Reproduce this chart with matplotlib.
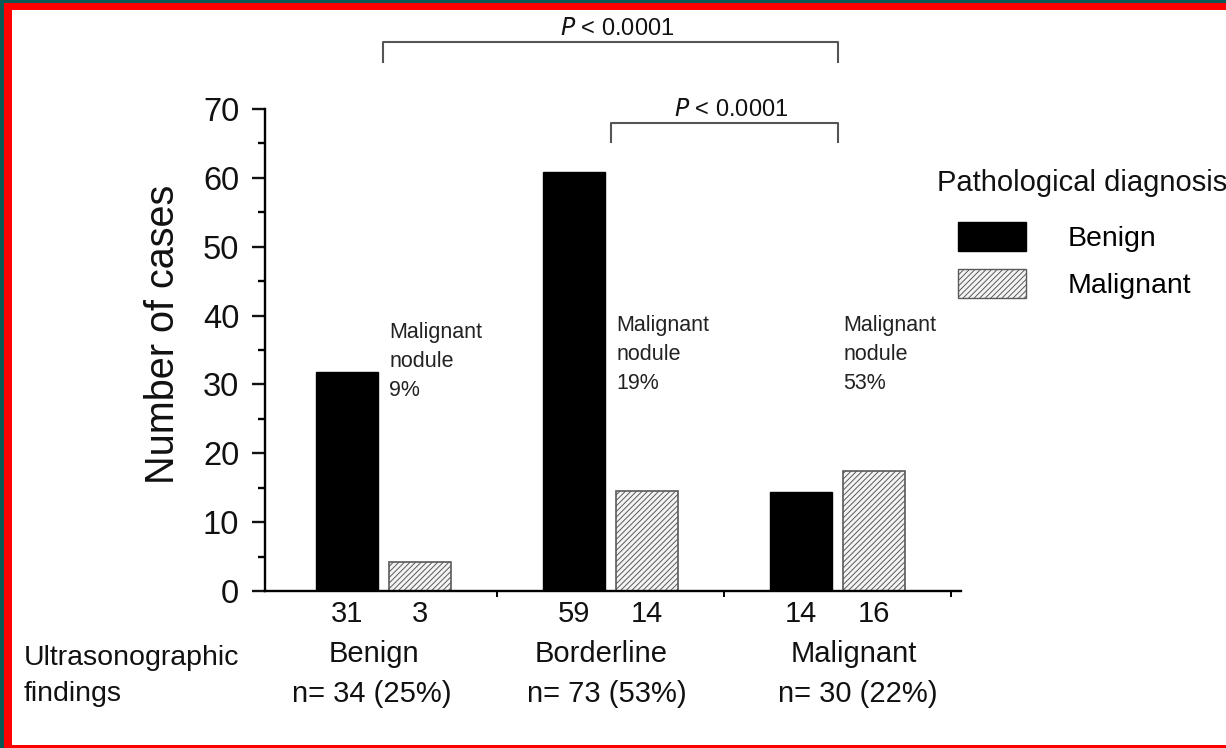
import numpy as np
import matplotlib.pyplot as plt
from matplotlib.patches import Rectangle, Patch

plt.rcParams["font.family"] = ["Liberation Sans", "DejaVu Sans"]
plt.rcParams["hatch.linewidth"] = 0.7

# ------------------------------------------------------------------
# Data
# ------------------------------------------------------------------
groups = ["Benign", "Borderline", "Malignant"]
benign_height = [31.8, 60.8, 14.4]      # drawn bar heights
malignant_height = [4.2, 14.5, 17.4]
benign_counts = [31, 59, 14]            # printed counts
malignant_counts = [3, 14, 16]
n_totals = [34, 73, 30]
n_share = [25, 53, 22]
malignant_rate = [9, 19, 53]
p_labels = ["P < 0.0001", "P < 0.0001"]

W, H = 1226, 748
fig = plt.figure(figsize=(W / 100, H / 100), dpi=100)
ax = fig.add_axes([265 / W, 1 - 591 / H, 696 / W, 482 / H])

x = np.arange(len(groups))
bw = 0.277
off = 0.161
hatch_col = "#5a5a5a"

ax.bar(x - off, benign_height, bw, color="black", edgecolor="black", linewidth=1, zorder=2)
ax.bar(x + off, malignant_height, bw, color="#f4f4f4", edgecolor=hatch_col, hatch="//////",
       linewidth=1.2, zorder=2)

ax.set_xlim(-0.522, 2.544)
ax.set_ylim(0, 70)

# axes styling
for side in ["top", "right"]:
    ax.spines[side].set_visible(False)
for side in ["left", "bottom"]:
    ax.spines[side].set_linewidth(1.7)
ax.set_yticks(range(0, 71, 10))
ax.set_yticks(range(5, 70, 10), minor=True)
ax.tick_params(axis="y", which="major", length=9.5, width=1.7, labelsize=23.5, pad=9, colors="#111111")
ax.tick_params(axis="y", which="minor", length=5, width=1.7)
ax.set_xticks([0.5, 1.5, 2.5])
ax.tick_params(axis="x", which="major", length=4.5, width=1.4, labelbottom=False)

fig.text(163 / W, 1 - 334 / H, "Number of cases", rotation=90, ha="center", va="center",
         fontsize=28.5, color="#111111")

# counts under bars and group labels
xt = ax.get_xaxis_transform()
for i in range(len(groups)):
    ax.text(x[i] - off, -0.048, str(benign_counts[i]), transform=xt, ha="center", va="center",
            fontsize=21, color="#111111")
    ax.text(x[i] + off, -0.048, str(malignant_counts[i]), transform=xt, ha="center", va="center",
            fontsize=21, color="#111111")

cat_x = [-0.04, 0.96, 2.07]
n_x = [-0.05, 0.985, 2.09]
for i, g in enumerate(groups):
    ax.text(cat_x[i], -0.131, g, transform=xt, ha="center", va="center", fontsize=21, color="#111111")
    ax.text(n_x[i], -0.214, f"n= {n_totals[i]} ({n_share[i]}%)", transform=xt, ha="center",
            va="center", fontsize=21, color="#111111")

fig.text(24 / W, 1 - 676 / H, "Ultrasonographic\nfindings", ha="left", va="center",
         fontsize=20.5, color="#111111", linespacing=1.5)

# malignant nodule annotations
ann_y = [33.3, 34.3, 34.3]
for i in range(len(groups)):
    ax.text(x[i] + 0.025, ann_y[i], f"Malignant\nnodule\n{malignant_rate[i]}%", ha="left", va="center",
            fontsize=15.5, color="#222222", linespacing=1.5)

# significance brackets
brackets = [(0, 2, 79.7, 76.8), (1, 2, 68.0, 65.2)]
for (a, b, top, leg), lab in zip(brackets, p_labels):
    ax.plot([x[a], x[a], x[b], x[b]], [leg, top, top, leg], color="#555555", lw=1.5,
            clip_on=False, zorder=3)
    ax.text((x[a] + x[b]) / 2 + 0.03, top + 1.9, "$P$" + lab[1:], ha="center", va="center",
            fontsize=17, color="#111111")

# legend
fig.text(937 / W, 1 - 183 / H, "Pathological diagnosis", ha="left", va="center",
         fontsize=21, color="#111111")
handles = [Patch(facecolor="black", edgecolor="black"),
           Patch(facecolor="#f4f4f4", edgecolor=hatch_col, hatch="//////")]
fig.legend(handles, ["Benign", "Malignant"], loc="upper left", bbox_to_anchor=(958 / W, 1 - 222 / H),
           frameon=False, fontsize=20.5, handlelength=2.4, handleheight=1.2, handletextpad=1.45,
           labelspacing=0.58, borderpad=0, borderaxespad=0)

# red frame of the original picture
teal = "#0b5955"
red = "#ff0000"
def px_rect(x0, y0, w, h, c):
    fig.add_artist(Rectangle((x0 / W, 1 - (y0 + h) / H), w / W, h / H, transform=fig.transFigure,
                             facecolor=c, edgecolor="none", zorder=10))

px_rect(0, 0, W, 10, red)
px_rect(0, 0, 12, H, red)
px_rect(0, 745, W, 3, red)
px_rect(0, 0, W, 3, teal)
px_rect(0, 0, 4, H, teal)

fig.savefig("out.png", dpi=100)
